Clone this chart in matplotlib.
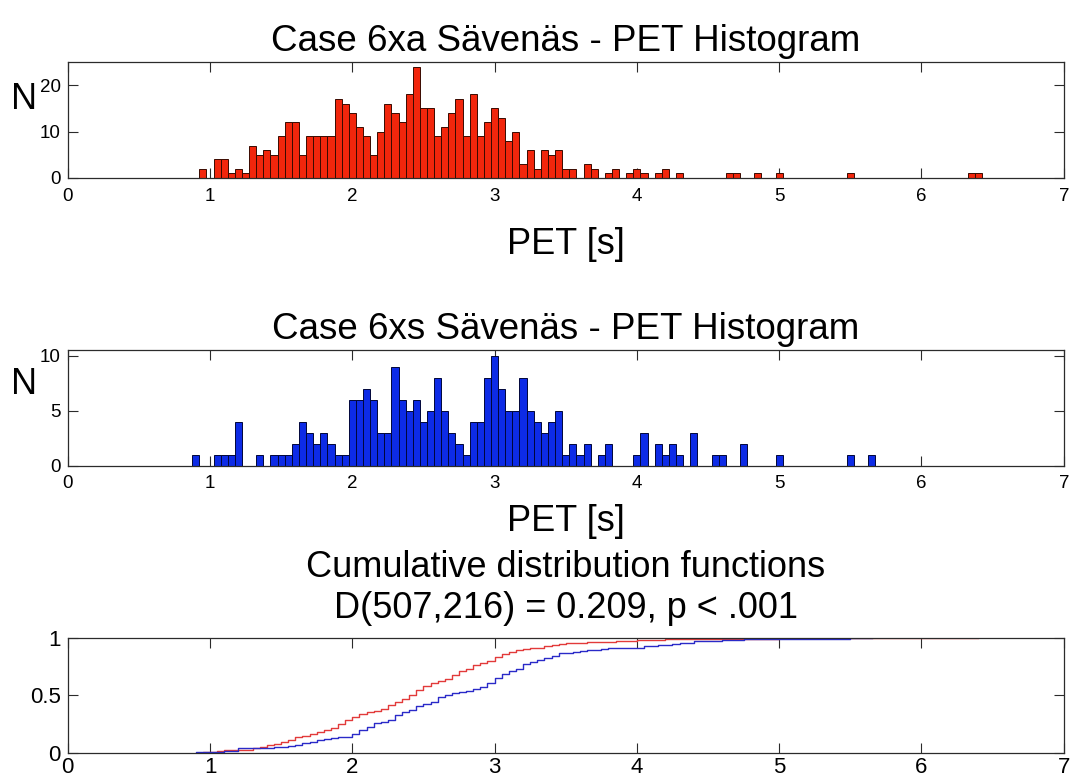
import numpy as np
import matplotlib
matplotlib.use("Agg")
import matplotlib.pyplot as plt

plt.rcParams['font.family'] = ['Liberation Sans', 'DejaVu Sans']

# PET histogram data: bin centres [s] and counts (bin width 0.05 s)
bin_width = 0.05

pet_6xa = [0.95, 1.05, 1.10, 1.15, 1.20, 1.25, 1.30, 1.35, 1.40, 1.45,
           1.50, 1.55, 1.60, 1.65, 1.70, 1.75, 1.80, 1.85, 1.90, 1.95,
           2.00, 2.05, 2.10, 2.15, 2.20, 2.25, 2.30, 2.35, 2.40, 2.45,
           2.50, 2.55, 2.60, 2.65, 2.70, 2.75, 2.80, 2.85, 2.90, 2.95,
           3.00, 3.05, 3.10, 3.15, 3.20, 3.25, 3.30, 3.35, 3.40, 3.45,
           3.50, 3.55, 3.65, 3.70, 3.80, 3.85, 3.95, 4.00, 4.05, 4.15,
           4.20, 4.30, 4.65, 4.70, 4.85, 5.00, 5.50, 6.35, 6.40]
n_6xa = [2, 4, 4, 1, 2, 1, 7, 5, 6, 5,
         9, 12, 12, 5, 9, 9, 9, 9, 17, 16,
         14, 11, 9, 5, 10, 16, 14, 12, 18, 24,
         15, 15, 9, 11, 14, 17, 9, 18, 9, 12,
         15, 13, 8, 10, 3, 6, 2, 6, 5, 6,
         2, 2, 3, 2, 1, 2, 1, 2, 1, 1,
         2, 1, 1, 1, 1, 1, 1, 1, 1]

pet_6xs = [0.90, 1.05, 1.10, 1.15, 1.20, 1.35, 1.45, 1.50, 1.55, 1.60,
           1.65, 1.70, 1.75, 1.80, 1.85, 1.90, 1.95, 2.00, 2.05, 2.10,
           2.15, 2.20, 2.25, 2.30, 2.35, 2.40, 2.45, 2.50, 2.55, 2.60,
           2.65, 2.70, 2.75, 2.80, 2.85, 2.90, 2.95, 3.00, 3.05, 3.10,
           3.15, 3.20, 3.25, 3.30, 3.35, 3.40, 3.45, 3.50, 3.55, 3.60,
           3.65, 3.75, 3.80, 4.00, 4.05, 4.15, 4.20, 4.25, 4.30, 4.40,
           4.55, 4.60, 4.75, 5.00, 5.50, 5.65]
n_6xs = [1, 1, 1, 1, 4, 1, 1, 1, 1, 2,
         4, 3, 2, 3, 2, 1, 1, 6, 6, 7,
         6, 3, 3, 9, 6, 5, 6, 4, 5, 8,
         5, 3, 2, 1, 4, 4, 8, 10, 7, 5,
         5, 8, 5, 4, 3, 4, 5, 1, 2, 1,
         2, 1, 2, 1, 3, 2, 1, 2, 1, 3,
         1, 1, 2, 1, 1, 1]

title_6xa = 'Case 6xa Sävenäs - PET Histogram'
title_6xs = 'Case 6xs Sävenäs - PET Histogram'
title_cdf = 'Cumulative distribution functions\nD(507,216) = 0.209, p < .001'
x_label = 'PET [s]'
y_label = 'N'
x_ticks = [0, 1, 2, 3, 4, 5, 6, 7]
y_ticks_6xa = [0, 10, 20]
y_ticks_6xs = [0, 5, 10]
y_ticks_cdf = [0, 0.5, 1]
y_tick_labels_cdf = ['0', '0.5', '1']

RED = '#f2260c'
BLUE = '#0d2be6'
CDF_RED = '#e23a3a'
CDF_BLUE = '#2a2ac8'
AX_COLOR = '#2b2b2b'

fig = plt.figure(figsize=(10.73, 7.83), dpi=100)
fig.patch.set_facecolor('white')

left, width = 0.0631, 0.9283
ax1 = fig.add_axes([left, 0.7727, width, 0.1481])
ax2 = fig.add_axes([left, 0.4052, width, 0.1478])
ax3 = fig.add_axes([left, 0.0387, width, 0.1469])


def style_axes(ax, yticks, ylim, labelsize, xpad, ypad):
    ax.set_xlim(0, 7)
    ax.set_ylim(*ylim)
    ax.set_xticks(x_ticks)
    ax.set_yticks(yticks)
    ax.tick_params(direction='in', length=7.2, width=0.8, top=True, right=True,
                   labelsize=labelsize, color=AX_COLOR, labelcolor='black')
    ax.tick_params(axis='x', pad=xpad)
    ax.tick_params(axis='y', pad=ypad)
    for s in ax.spines.values():
        s.set_linewidth(0.9)
        s.set_color(AX_COLOR)
        s.set_zorder(3)


# Top histogram: case 6xa
ax1.bar(pet_6xa, n_6xa, width=bin_width, color=RED, edgecolor='#3a0a00',
        linewidth=0.7, zorder=2)
style_axes(ax1, y_ticks_6xa, (0, 25), 13.5, 7, 5)
ax1.set_title(title_6xa, fontsize=26.5, pad=8)
ax1.set_xlabel(x_label, fontsize=26)
ax1.xaxis.set_label_coords(0.5, -0.42)
ax1.set_ylabel(y_label, fontsize=26, rotation=0, va='center', ha='center')
ax1.yaxis.set_label_coords(-0.044, 0.68)

# Middle histogram: case 6xs
ax2.bar(pet_6xs, n_6xs, width=bin_width, color=BLUE, edgecolor='#00063a',
        linewidth=0.7, zorder=2)
style_axes(ax2, y_ticks_6xs, (0, 10.5), 13.5, 7, 5)
ax2.set_title(title_6xs, fontsize=26.5, pad=8)
ax2.set_xlabel(x_label, fontsize=26)
ax2.xaxis.set_label_coords(0.5, -0.33)
ax2.set_ylabel(y_label, fontsize=26, rotation=0, va='center', ha='center')
ax2.yaxis.set_label_coords(-0.044, 0.70)


# Empirical CDFs built from the binned PET values
def ecdf(values, counts):
    x = np.repeat(np.asarray(values, float), counts)
    x = np.sort(x)
    ux, c = np.unique(x, return_counts=True)
    y = np.cumsum(c) / len(x)
    xs = np.concatenate([[ux[0]], ux])
    ys = np.concatenate([[0.0], y])
    return xs, ys


xa, ya = ecdf(pet_6xa, n_6xa)
xs_, ys_ = ecdf(pet_6xs, n_6xs)
ax3.step(xa, ya, where='post', color=CDF_RED, linewidth=1.0, zorder=2)
ax3.step(xs_, ys_, where='post', color=CDF_BLUE, linewidth=1.0, zorder=2)
style_axes(ax3, y_ticks_cdf, (0, 1), 16, 3, 5)
ax3.set_yticklabels(y_tick_labels_cdf)
ax3.set_title(title_cdf, fontsize=26, pad=14, linespacing=1.23)

fig.savefig('out.png', dpi=100, facecolor='white')
